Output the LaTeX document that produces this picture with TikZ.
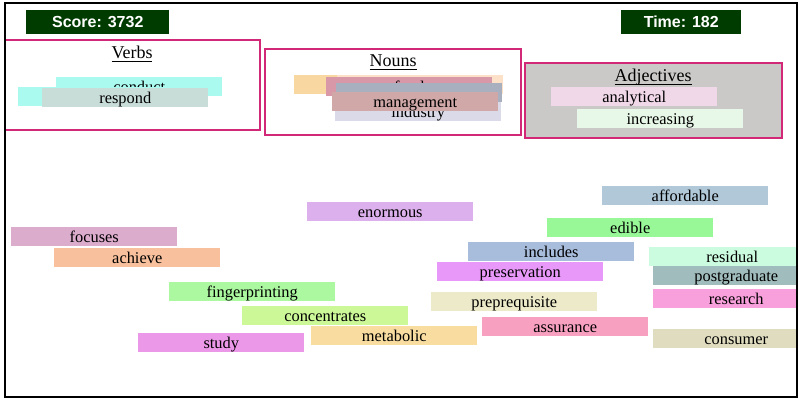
\documentclass[tikz,border=0pt]{standalone}
\usepackage{fontspec}
\setmainfont{Liberation Serif}
\setsansfont{Liberation Sans}

\definecolor{marco}{RGB}{210,40,120}
\definecolor{verdeosc}{RGB}{0,60,0}
\definecolor{grisadj}{RGB}{203,201,199}
% colores de las palabras
\definecolor{c-conduct}{HTML}{AAFAF0}
\definecolor{c-respond}{HTML}{C8DCD8}
\definecolor{c-naranja}{HTML}{F8D8A0}
\definecolor{c-durazno}{HTML}{FDE0C8}
\definecolor{c-food}{HTML}{D898A8}
\definecolor{c-grisazul}{HTML}{A8B0C0}
\definecolor{c-industry}{HTML}{DADAE8}
\definecolor{c-management}{HTML}{D0A8A8}
\definecolor{c-analytical}{HTML}{F0D8E8}
\definecolor{c-increasing}{HTML}{E8F8E8}
\definecolor{c-enormous}{HTML}{DCB0EC}
\definecolor{c-focuses}{HTML}{DCACCC}
\definecolor{c-achieve}{HTML}{F8C09C}
\definecolor{c-fingerprinting}{HTML}{ACF8A0}
\definecolor{c-concentrates}{HTML}{CCF898}
\definecolor{c-study}{HTML}{EC98E8}
\definecolor{c-metabolic}{HTML}{F8DCA0}
\definecolor{c-affordable}{HTML}{B0C8D8}
\definecolor{c-edible}{HTML}{98F898}
\definecolor{c-includes}{HTML}{A8BCDC}
\definecolor{c-preservation}{HTML}{E898F8}
\definecolor{c-preprequisite}{HTML}{ECEAC8}
\definecolor{c-assurance}{HTML}{F8A0C0}
\definecolor{c-residual}{HTML}{CCFCE0}
\definecolor{c-postgraduate}{HTML}{A0BCBC}
\definecolor{c-research}{HTML}{F8A0DC}
\definecolor{c-consumer}{HTML}{E0DCC0}

% subrayado pegado a la linea base
\newcommand{\subrayado}[1]{\underline{\smash{#1}}}

\tikzset{
    palabra/.style={anchor=north west, inner sep=0pt, minimum width=124.5pt,
        minimum height=14.25pt, text height=11.25pt, text depth=3pt,
        font=\fontsize{12.3}{14}\selectfont},
    titulo/.style={anchor=base, inner sep=0pt, font=\fontsize{13.5}{16}\selectfont},
    marcador/.style={anchor=north west, inner sep=0pt, fill=verdeosc, text=white,
        minimum height=18pt, font=\sffamily\bfseries\fontsize{12}{14}\selectfont},
    categoria/.style={draw=marco, line width=1.5pt}
}

\begin{document}
\begin{tikzpicture}[x=0.75pt, y=-0.75pt]
    \useasboundingbox (0,0) rectangle (798,399);

    % Marcadores
    \node[marcador, minimum width=107.25pt] (score) at (26,10) {Score: 3732};
    \node[marcador, minimum width=90pt] (time) at (621,10) {Time: 182};

    \begin{scope}
        \clip (5,3) rectangle (797,397);

        % Categorias
        \draw[categoria] (5,40) rectangle (260,130);
        \draw[categoria] (265,49) rectangle (521,135);
        \draw[categoria, fill=grisadj] (525,63) rectangle (782,138);
        \node[titulo] (verbs) at (132,59) {\subrayado{Verbs}};
        \node[titulo] (nouns) at (393,67) {\subrayado{Nouns}};
        \node[titulo] (adjectives) at (653,82) {\subrayado{Adjectives}};

        % Palabras dentro de Verbs
        \node[palabra, fill=c-conduct] (conduct) at (56,77) {conduct};
        \node[palabra, fill=c-conduct] (verbo-oculto) at (18,86.5) {};
        \node[palabra, fill=c-respond] (respond) at (42,88) {respond};

        % Palabras dentro de Nouns
        \node[palabra, fill=c-naranja] (sust-a) at (294,75) {};
        \node[palabra, fill=c-durazno] (sust-b) at (337,75) {};
        \node[palabra, fill=c-food] (food) at (326,77) {food};
        \node[palabra, fill=c-grisazul] (sust-c) at (336,83) {};
        \node[palabra, fill=c-industry] (industry) at (335,102) {industry};
        \node[palabra, fill=c-management] (management) at (332,92) {management};

        % Palabras dentro de Adjectives
        \node[palabra, fill=c-analytical] (analytical) at (551,87) {analytical};
        \node[palabra, fill=c-increasing] (increasing) at (577,109) {increasing};

        % Palabras sueltas
        \foreach \w/\x/\y in {enormous/307/202, focuses/11/227, achieve/54/248,
                fingerprinting/169/282, concentrates/242/306, study/138/333,
                metabolic/311/326, affordable/602/186, edible/547/218,
                includes/468/242, preservation/437/262, preprequisite/431/292,
                assurance/482/317, residual/649/247, postgraduate/653/266,
                research/653/289, consumer/653/329}
            \node[palabra, fill=c-\w] (\w) at (\x,\y) {\w};
    \end{scope}

    % Marco exterior
    \draw[line width=1.5pt] (5,3) rectangle (797,397);
\end{tikzpicture}
\end{document}
